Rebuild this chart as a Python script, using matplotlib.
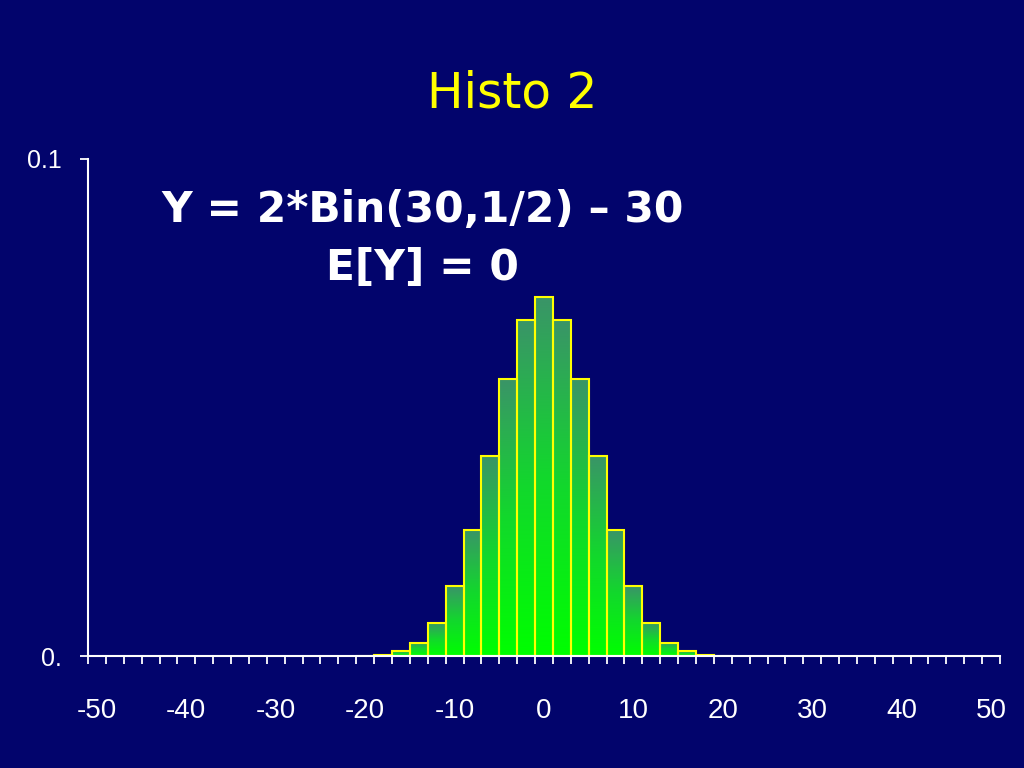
import matplotlib
matplotlib.use("Agg")
import matplotlib.pyplot as plt
import numpy as np
from matplotlib.colors import LinearSegmentedColormap

# Data (density per unit, bins of width 2)
bin_centers = [-20, -18, -16, -14, -12, -10, -8, -6, -4, -2, 0,
               2, 4, 6, 8, 10, 12, 14, 16, 18, 20]
densities = [0.000066, 0.00028, 0.00095, 0.0027, 0.0067, 0.0140, 0.0254,
             0.0403, 0.0558, 0.0677, 0.0722, 0.0677, 0.0558, 0.0403,
             0.0254, 0.0140, 0.0067, 0.0027, 0.00095, 0.00028, 0.000066]
bin_width = 2.0
x_labels = [-50, -40, -30, -20, -10, 0, 10, 20, 30, 40, 50]
y_ticks = [0.0, 0.1]
y_ticklabels = ["0.", "0.1"]

title = "Histo 2"
line1 = "Y = 2*Bin(30,1/2) \u2013 30"
line2 = "E[Y] = 0"

bg = "#02046c"
fig = plt.figure(figsize=(10.24, 7.68), dpi=100, facecolor=bg)
ax = fig.add_axes([88/1024, 1-656/768, 912/1024, (656-159)/768])
ax.set_facecolor(bg)

cmap = LinearSegmentedColormap.from_list("g", ["#00ff00", "#12d82c", "#3a9468"])
grad = np.linspace(0, 1, 256).reshape(-1, 1)
for c, h in zip(bin_centers, densities):
    ax.imshow(grad, extent=[c - bin_width/2, c + bin_width/2, 0, h], origin="lower",
              cmap=cmap, aspect="auto", interpolation="bilinear", zorder=2)
ax.bar(bin_centers, densities, width=bin_width, facecolor="none",
       edgecolor="#ffff00", linewidth=1.5, zorder=3)

ax.set_xlim(-51, 51)
ax.set_ylim(0, 0.1)

for s in ["top", "right"]:
    ax.spines[s].set_visible(False)
for s in ["left", "bottom"]:
    ax.spines[s].set_color("white")
    ax.spines[s].set_linewidth(1.5)
    ax.spines[s].set_zorder(5)

ax.set_xticks(x_labels)
ax.set_xticklabels([str(v) for v in x_labels])
ax.set_xticks(np.arange(-51, 52, 2), minor=True)
ax.tick_params(axis="x", which="major", length=0, pad=30, labelsize=20,
               labelcolor="white")
ax.tick_params(axis="x", which="minor", length=6, width=1.3, color="white",
               direction="out")
ax.set_yticks(y_ticks)
ax.set_yticklabels(y_ticklabels)
ax.tick_params(axis="y", which="major", length=6, width=1.3, color="white",
               direction="out", pad=13, labelsize=18, labelcolor="white")
for lab in ax.get_xticklabels() + ax.get_yticklabels():
    lab.set_fontfamily("Liberation Sans")

fig.text(512/1024, 1-93/768, title, color="#ffff00", fontsize=35,
         ha="center", va="center", family="DejaVu Sans")
fig.text(423/1024, 1-210/768, line1, color="white", fontsize=30.5,
         fontweight="bold", ha="center", va="center", family="DejaVu Sans")
fig.text(422/1024, 1-268/768, line2, color="white", fontsize=30.5,
         fontweight="bold", ha="center", va="center", family="DejaVu Sans")

fig.savefig("out.png", dpi=100, facecolor=bg)
